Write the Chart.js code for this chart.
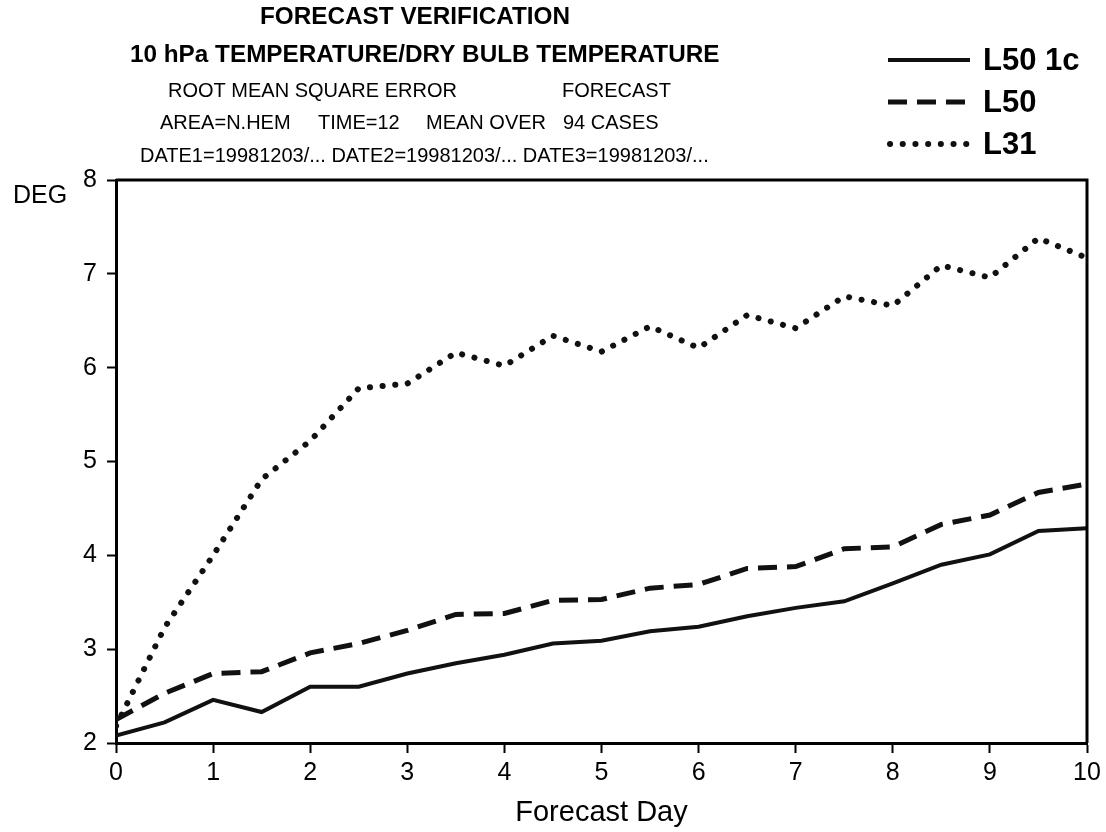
<!DOCTYPE html>
<html>
<head>
<meta charset="utf-8">
<title>Forecast verification</title>
<script src="https://cdn.jsdelivr.net/npm/chart.js@4.4.1/dist/chart.umd.min.js"></script>
<style>
  body { margin: 0; background: #fff; }
  canvas { display: block; }
</style>
</head>
<body>
<canvas id="myChart" width="1106" height="832"></canvas>
<script>
// forecast days (every 12 h)
var days = [0, 0.5, 1, 1.5, 2, 2.5, 3, 3.5, 4, 4.5, 5, 5.5, 6, 6.5, 7, 7.5, 8, 8.5, 9, 9.5, 10];
// rms error (deg)
var l50_1c = [2.08, 2.22, 2.46, 2.33, 2.60, 2.60, 2.74, 2.85, 2.94, 3.06, 3.09, 3.19, 3.24, 3.35, 3.44, 3.51, 3.70, 3.90, 4.01, 4.26, 4.29];
var l50 = [2.25, 2.53, 2.74, 2.76, 2.96, 3.06, 3.20, 3.37, 3.38, 3.52, 3.53, 3.65, 3.69, 3.86, 3.88, 4.07, 4.09, 4.33, 4.43, 4.67, 4.76];
var l31 = [2.18, 3.23, 4.00, 4.81, 5.22, 5.78, 5.83, 6.16, 6.02, 6.34, 6.17, 6.44, 6.21, 6.56, 6.42, 6.76, 6.66, 7.09, 6.96, 7.38, 7.17];
var seriesNames = ['L50 1c', 'L50', 'L31'];

var xTicks = [0, 1, 2, 3, 4, 5, 6, 7, 8, 9, 10];
var yTicks = [2, 3, 4, 5, 6, 7, 8];

function toPoints(values) {
    return values.map(function (v, i) { return { x: days[i], y: v }; });
}

var FONT = '"Liberation Sans", Arial, Helvetica, sans-serif';

// heading lines, the DEG label, the legend and the box round the plot
var decorations = {
    id: 'decorations',
    afterDraw: function (chart) {
        var ctx = chart.ctx;
        var area = chart.chartArea;
        ctx.save();
        ctx.fillStyle = '#000';
        ctx.textBaseline = 'middle';
        ctx.textAlign = 'left';

        ctx.font = 'bold 24.3px ' + FONT;
        ctx.fillText('FORECAST VERIFICATION', 260, 17);
        ctx.fillText('10 hPa TEMPERATURE/DRY BULB TEMPERATURE', 130, 55);

        ctx.font = '20px ' + FONT;
        ctx.fillText('ROOT MEAN SQUARE ERROR', 168, 91);
        ctx.fillText('FORECAST', 562, 91);
        ctx.fillText('AREA=N.HEM', 160, 123);
        ctx.fillText('TIME=12', 318, 123);
        ctx.fillText('MEAN OVER', 426, 123);
        ctx.fillText('94 CASES', 563, 123);
        ctx.fillText('DATE1=19981203/... DATE2=19981203/... DATE3=19981203/...', 140, 156);

        ctx.font = '25px ' + FONT;
        ctx.fillText('DEG', 13, 196);

        // legend, one row per dataset
        chart.data.datasets.forEach(function (ds, i) {
            var y = 60 + i * 42;
            ctx.save();
            ctx.strokeStyle = ds.borderColor;
            ctx.lineWidth = ds.borderWidth;
            ctx.lineCap = ds.borderCapStyle || 'butt';
            ctx.setLineDash(ds.borderDash || []);
            ctx.beginPath();
            ctx.moveTo(ds.borderCapStyle === 'round' ? 890 : 888, y);
            ctx.lineTo(970, y);
            ctx.stroke();
            ctx.restore();
            ctx.font = 'bold 31px ' + FONT;
            ctx.fillText(ds.label, 983, y + 1);
        });

        // top and right edges of the frame
        ctx.strokeStyle = '#000';
        ctx.lineWidth = 3;
        ctx.beginPath();
        ctx.moveTo(area.left, area.top);
        ctx.lineTo(area.right, area.top);
        ctx.lineTo(area.right, area.bottom);
        ctx.stroke();
        ctx.restore();
    }
};

window.addEventListener('load', function () {
    var ctx = document.getElementById('myChart').getContext('2d');

    new Chart(ctx, {
        type: 'line',
        data: {
            datasets: [
                {
                    label: seriesNames[0],
                    data: toPoints(l50_1c),
                    borderColor: '#111',
                    borderWidth: 4,
                    pointRadius: 0,
                    fill: false
                },
                {
                    label: seriesNames[1],
                    data: toPoints(l50),
                    borderColor: '#111',
                    borderWidth: 5,
                    borderDash: [19, 10],
                    pointRadius: 0,
                    fill: false
                },
                {
                    label: seriesNames[2],
                    data: toPoints(l31),
                    borderColor: '#111',
                    borderWidth: 6,
                    borderDash: [0.1, 12.6],
                    borderCapStyle: 'round',
                    pointRadius: 0,
                    fill: false
                }
            ]
        },
        options: {
            responsive: false,
            animation: false,
            layout: { padding: { left: 0, top: 180, right: 19, bottom: 0 } },
            plugins: {
                legend: { display: false },
                tooltip: { enabled: false }
            },
            scales: {
                x: {
                    type: 'linear',
                    min: 0,
                    max: 10,
                    afterFit: function (scale) { scale.height = 89; },
                    afterBuildTicks: function (scale) {
                        scale.ticks = xTicks.map(function (v) { return { value: v }; });
                    },
                    ticks: {
                        color: '#000',
                        padding: 5,
                        maxRotation: 0,
                        font: { family: FONT, size: 25 }
                    },
                    grid: {
                        drawOnChartArea: false,
                        drawTicks: true,
                        tickLength: 10,
                        tickWidth: 2,
                        tickColor: '#000'
                    },
                    border: { color: '#000', width: 3 },
                    title: {
                        display: true,
                        text: 'Forecast Day',
                        color: '#000',
                        padding: { top: 0, bottom: 2 },
                        font: { family: FONT, size: 29 }
                    }
                },
                y: {
                    min: 2,
                    max: 8,
                    afterFit: function (scale) { scale.width = 116; },
                    afterBuildTicks: function (scale) {
                        scale.ticks = yTicks.map(function (v) { return { value: v }; });
                    },
                    ticks: {
                        color: '#000',
                        padding: 10,
                        font: { family: FONT, size: 25 }
                    },
                    grid: {
                        drawOnChartArea: false,
                        drawTicks: true,
                        tickLength: 9,
                        tickWidth: 2,
                        tickColor: '#000'
                    },
                    border: { color: '#000', width: 3 }
                }
            }
        },
        plugins: [decorations]
    });
});
</script>
</body>
</html>
